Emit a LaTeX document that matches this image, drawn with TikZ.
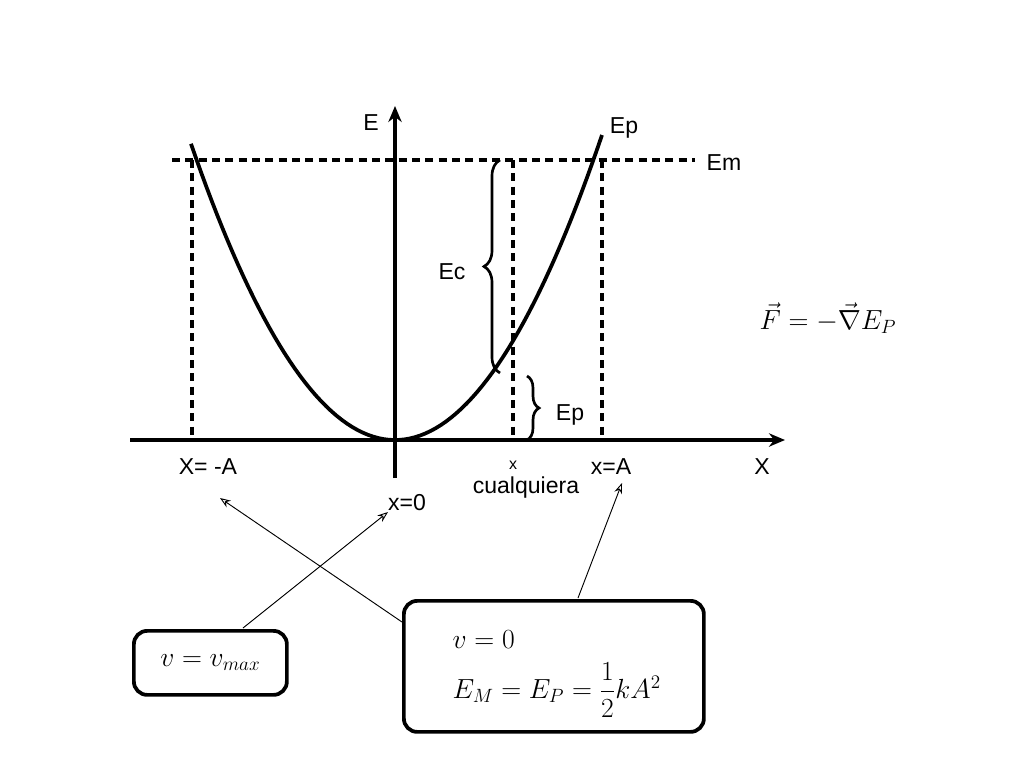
\documentclass[tikz,border=0pt]{standalone}
\usepackage{amsmath}
\usepackage{fontspec}
\setmainfont{Liberation Sans}
\usetikzlibrary{decorations.pathreplacing,arrows.meta}
\tikzset{
  axis/.style={line width=2.8pt,-{Stealth[length=12pt,width=10pt]}},
  guide/.style={line width=2.8pt,dash pattern={on 6pt off 4pt}},
  lbl/.style={font=\LARGE,inner sep=0.75pt},
  infobox/.style={draw,line width=2.8pt,rounded corners=10pt,anchor=north west},
  pointer/.style={-{Stealth[length=8pt,width=6pt,open]},line width=0.7pt}
}
\begin{document}
\begin{tikzpicture}[x=0.75pt,y=0.75pt,yscale=-1,xscale=1]
\useasboundingbox (0,0) rectangle (1024,768);
% axes
\draw [axis] (130,440) -- (785,440);
\draw [axis] (395,478) -- (395,106);
% energy level and guides
\draw [guide] (172,160) -- (695,160);
\draw [guide] (192,160) -- (192,440);
\draw [guide] (513,160) -- (513,440);
\draw [guide] (602,160) -- (602,440);
% potential energy
\draw [line width=2.8pt,domain=191:602,samples=80] plot (\x,{440-305*((\x-395)/207)^2});
% braces
\draw [line width=2pt,decorate,decoration={brace,amplitude=12pt}] (500,373) -- (500,160);
\draw [line width=2pt,decorate,decoration={brace,amplitude=9pt}] (527,376) -- (527,440);
% labels
\node [lbl] (lE) at (371,123) {E};
\node [lbl] (lEp) at (624,128) {Ep};
\node [lbl] (lEm) at (724,163) {Em};
\node [lbl] (lEc) at (452,272) {Ec};
\node [lbl] (lEp2) at (570,415) {Ep};
\node [lbl] (lmA) at (208,467) {X= -A};
\node [lbl,font=\large] (lx) at (513,465) {x};
\node [lbl] (lcq) at (526,488) {cualquiera};
\node [lbl] (lA) at (611,467) {x=A};
\node [lbl] (lX) at (762,467) {X};
\node [lbl] (l0) at (407,503) {x=0};
\node [font=\huge] (force) at (828,318) {$\vec{F}=-\vec{\nabla}E_P$};
% boxes
\node [infobox,minimum width=153pt*0.75,minimum height=64pt*0.75] (vmax) at (132,629) {};
\node [font=\huge] at (vmax.center) {$v=v_{max}$};
\node [infobox,minimum width=300pt*0.75,minimum height=131pt*0.75] (rest) at (402,599) {};
\node [font=\huge,anchor=west] at (448,640) {$v=0$};
\node [font=\huge,anchor=west] at (448,690) {$E_M=E_P=\dfrac{1}{2}kA^2$};
% pointers
\coordinate (p0) at (388,512);
\coordinate (pmA) at (220,498);
\coordinate (pA) at (622,483);
\draw [pointer] (243,628) -- (p0);
\draw [pointer] (402,622) -- (pmA);
\draw [pointer] (578,598) -- (pA);
\end{tikzpicture}
\end{document}
